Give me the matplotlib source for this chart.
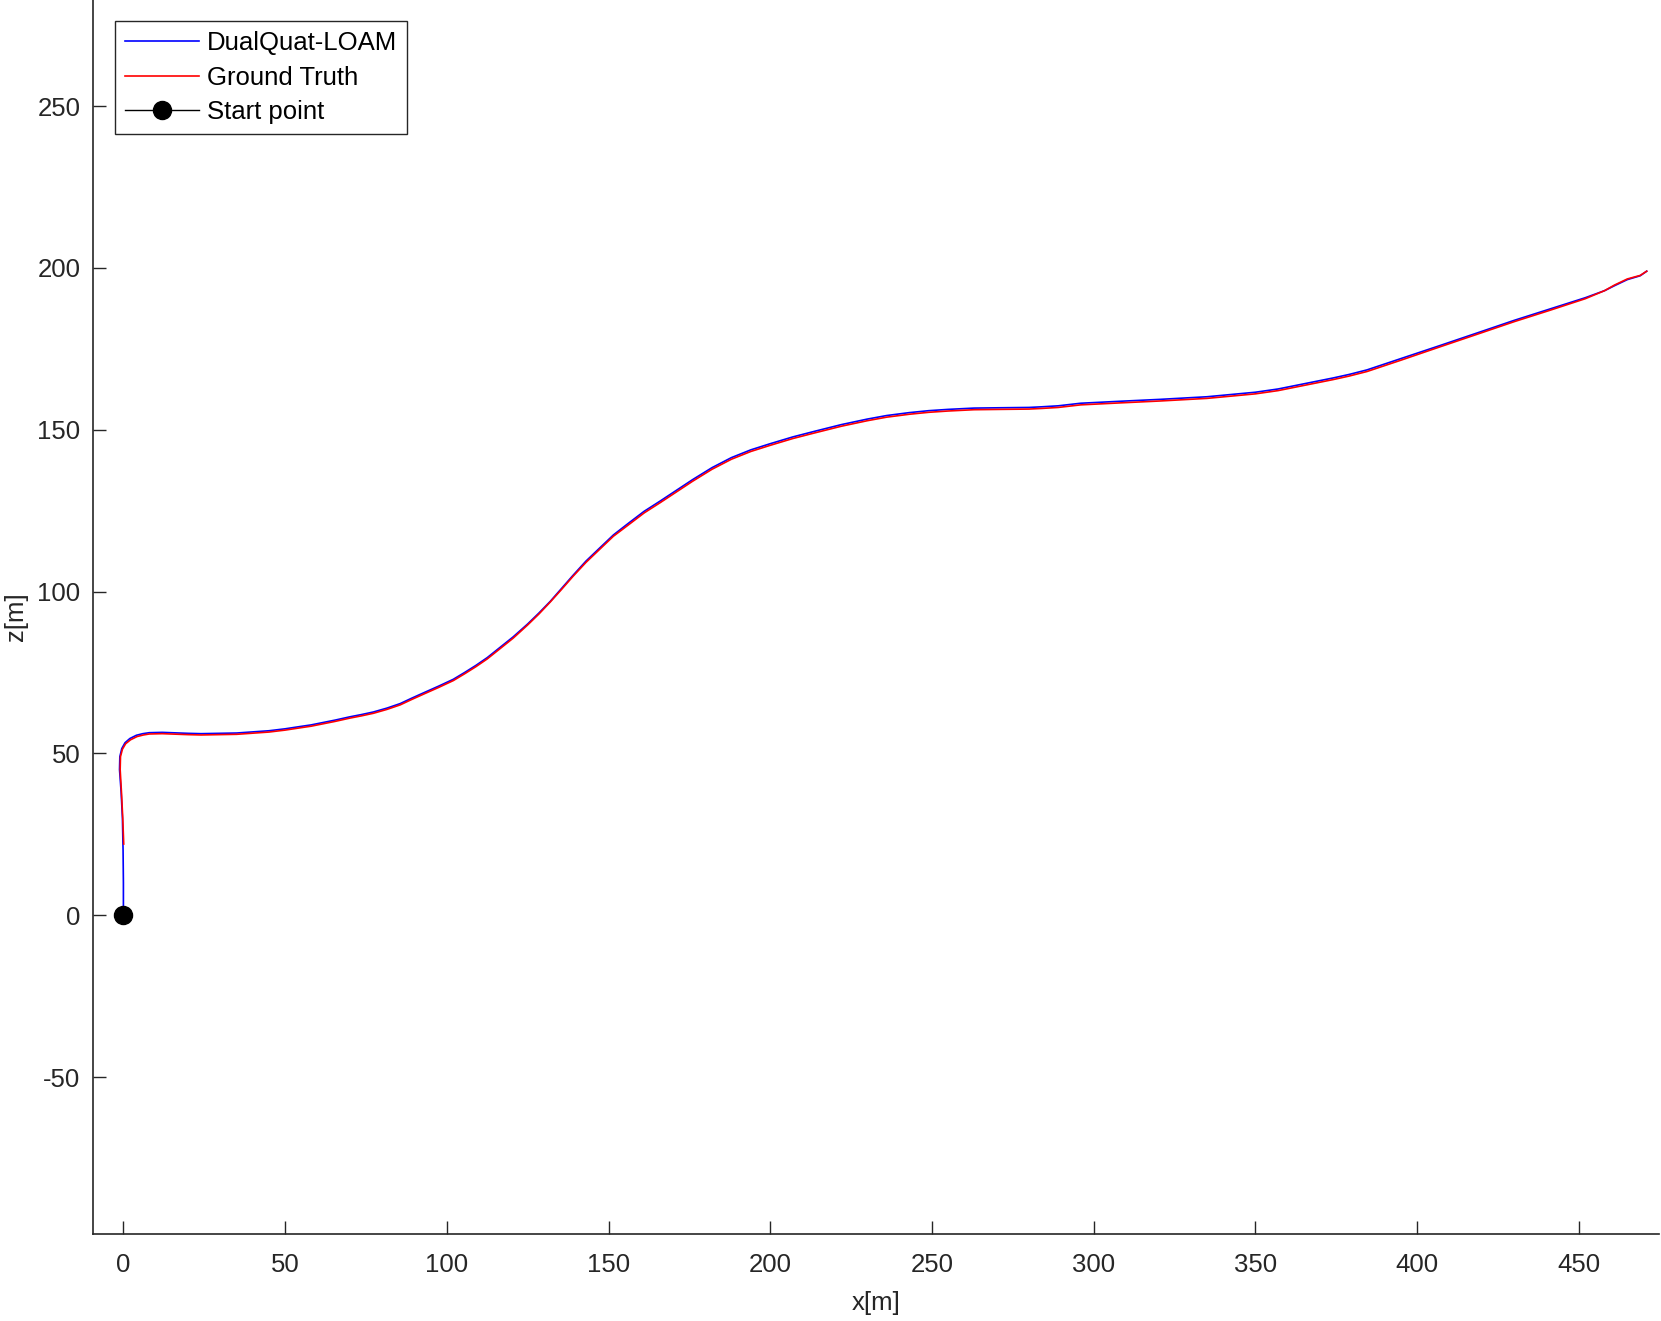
import numpy as np
import matplotlib
matplotlib.use("Agg")
import matplotlib.pyplot as plt

# trajectory (x, z in metres)
dq_x = [0, 0, -0.1, -0.3, -0.7, -1.2, -1.1, -0.5, 0.5, 2, 4, 6, 8, 12, 20, 24, 35, 45,
        50, 54.6, 58, 61, 65.5, 70, 73.6, 77.3, 81.5, 85.6, 89, 93, 97.5, 102, 105.5,
        109, 112.5, 116, 120.5, 125, 128.5, 132, 135.5, 139, 143, 147.4, 151.5, 156,
        161, 166, 171, 176, 182, 188, 194, 200, 207, 214, 222, 230, 236, 243, 249,
        255, 263, 271, 280, 284, 289, 292.5, 296, 308, 320.6, 335, 350, 357, 364, 369,
        374, 379, 384.5, 395, 407, 420, 430, 441, 452, 458, 461, 465, 469, 471]
dq_z = [0, 10, 20, 30, 38, 45, 49, 51.5, 53.3, 54.6, 55.6, 56.1, 56.4, 56.5, 56.2, 56.1,
        56.3, 57, 57.6, 58.3, 58.8, 59.4, 60.3, 61.3, 62, 62.8, 64, 65.4, 67, 68.8,
        70.8, 72.9, 75, 77.2, 79.6, 82.4, 86, 90, 93.4, 97, 101, 105, 109.4, 113.6,
        117.5, 121, 124.8, 128, 131.3, 134.6, 138.3, 141.4, 143.8, 145.7, 147.8, 149.6,
        151.6, 153.3, 154.4, 155.3, 155.9, 156.3, 156.7, 156.8, 156.9, 157.1, 157.4,
        157.8, 158.2, 158.8, 159.4, 160.2, 161.6, 162.6, 164, 165, 166, 167.1, 168.5,
        172, 176, 180.4, 183.8, 187.3, 190.8, 193, 194.5, 196.4, 197.6, 199]

gt_x = [0.1, -0.2, -0.6, -1.0, -0.9, -0.3, 0.7, 2.2, 4.2, 6.2, 8, 12, 20, 24, 35, 45,
        50, 54.6, 58, 61, 65.5, 70, 73.6, 77.3, 81.5, 85.6, 89, 93, 97.5, 102, 105.5,
        109, 112.5, 116, 120.5, 125, 128.5, 132, 135.5, 139, 143, 147.4, 151.5, 156,
        161, 166, 171, 176, 182, 188, 194, 200, 207, 214, 222, 230, 236, 243, 249,
        255, 263, 271, 280, 284, 289, 292.5, 296, 308, 320.6, 335, 350, 357, 364, 369,
        374, 379, 384.5, 395, 407, 420, 430, 441, 452, 458, 461, 465, 469, 471]
gt_z = [22, 30, 38, 45, 49, 51.3, 53, 54.2, 55.2, 55.7, 56, 56.1, 55.8, 55.7,
        55.9, 56.6, 57.2, 57.9, 58.4, 59, 59.9, 60.9, 61.6, 62.4, 63.6, 65, 66.6, 68.4,
        70.4, 72.5, 74.6, 76.8, 79.2, 82, 85.6, 89.7, 93.1, 96.8, 100.7, 104.7, 109,
        113.2, 117.1, 120.5, 124.3, 127.5, 130.8, 134.1, 137.8, 140.9, 143.3, 145.2,
        147.3, 149.1, 151.1, 152.8, 153.9, 154.8, 155.4, 155.8, 156.2, 156.3, 156.4,
        156.6, 156.9, 157.3, 157.7, 158.3, 158.9, 159.7, 161.1, 162.1, 163.5, 164.5,
        165.5, 166.6, 168, 171.5, 175.6, 180, 183.4, 186.9, 190.5, 193, 194.7, 196.6,
        197.7, 199]

x_ticks = [0, 50, 100, 150, 200, 250, 300, 350, 400, 450]
z_ticks = [-50, 0, 50, 100, 150, 200, 250]

plt.rcParams['font.family'] = ['Liberation Sans', 'DejaVu Sans']
plt.rcParams['axes.unicode_minus'] = False
fs = 18.5
axcol = '#262626'

fig = plt.figure(figsize=(16.61, 13.21), dpi=100)
ax = fig.add_axes([93/1661, 87/1321, (1659-93)/1661, 1234/1321])

ax.plot(dq_x, dq_z, color='b', lw=1.2, label='DualQuat-LOAM')
ax.plot(gt_x, gt_z, color='r', lw=1.2, label='Ground Truth')
ax.plot(0, 0, color='k', lw=1.0, marker='o', ms=13, label='Start point')

ax.set_xlim(-9.4, 474.8)
ax.set_ylim(-98.5, 282.8)
ax.set_xticks(x_ticks)
ax.set_yticks(z_ticks)

for s in ['top', 'right']:
    ax.spines[s].set_visible(False)
for s in ['left', 'bottom']:
    ax.spines[s].set_color(axcol)
    ax.spines[s].set_linewidth(1.2)
ax.tick_params(direction='in', length=9.5, width=1.0, color=axcol,
               labelcolor=axcol, labelsize=fs)
ax.tick_params(axis='x', pad=13.5)
ax.tick_params(axis='y', pad=9)

ax.set_xlabel('x[m]', fontsize=fs, color=axcol, labelpad=10)
ax.set_ylabel('z[m]', fontsize=fs, color=axcol, labelpad=7)

leg = ax.legend(loc='upper left', bbox_to_anchor=(0.014, 0.983), fontsize=fs,
                handlelength=2.9, handletextpad=0.3, labelspacing=0.42,
                borderpad=0.38, borderaxespad=0, fancybox=False, framealpha=1)
leg.get_frame().set_edgecolor(axcol)
leg.get_frame().set_linewidth(1.0)

fig.savefig('out.png', dpi=100)
